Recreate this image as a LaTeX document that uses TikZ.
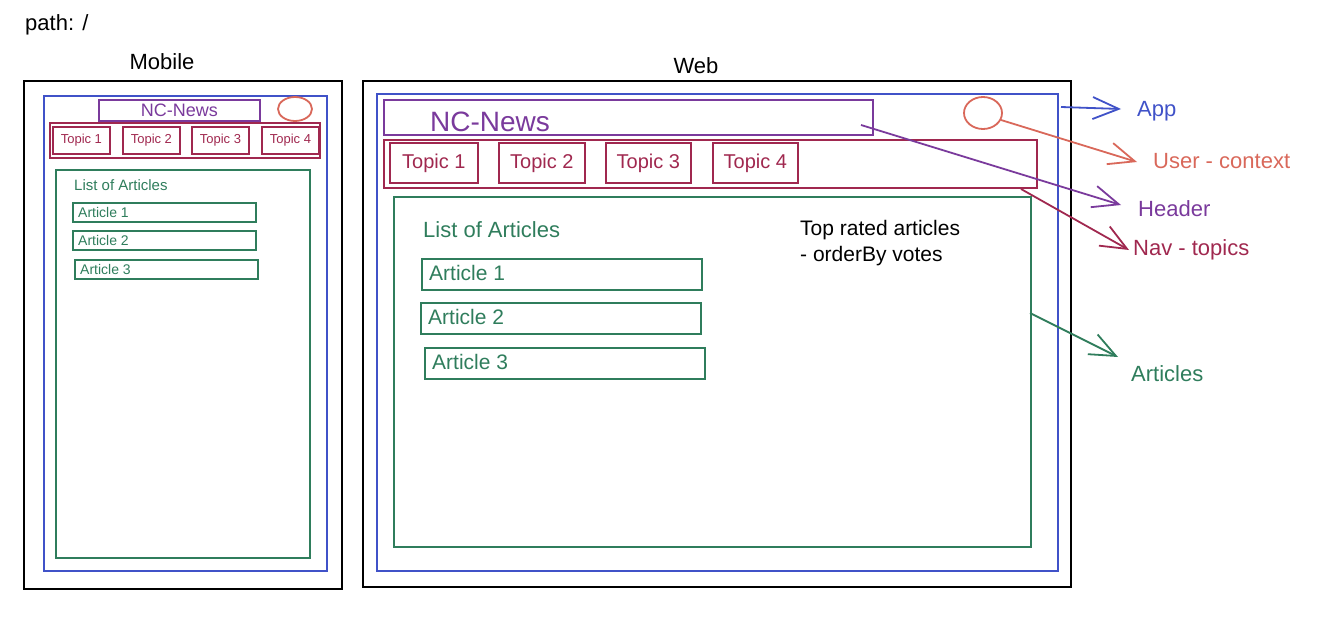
\documentclass[tikz,border=0pt]{standalone}
\usepackage{fontspec}
\setmainfont{Liberation Sans}
\usetikzlibrary{arrows.meta,calc}
\definecolor{cblue}{HTML}{4052C8}
\definecolor{cpurple}{HTML}{7A3A9C}
\definecolor{cred}{HTML}{A0284F}
\definecolor{csalmon}{HTML}{D9685A}
\definecolor{cgreen}{HTML}{2F7D5C}
\newcommand{\fs}[1]{\fontsize{#1}{#1}\selectfont}
\tikzset{
  sk/.style={draw, line width=1.8pt, rectangle, inner sep=0pt, anchor=north west},
  lab/.style={inner sep=0pt, anchor=west},
  arr/.style={line width=1.8pt, -{Straight Barb[length=26pt,width=22pt,line width=1.8pt]}},
}
\begin{document}
\begin{tikzpicture}[x=1pt,y=-1pt]
\useasboundingbox (0,0) rectangle (1344,626);

% titles
\node[lab] (path) at (25,25) {\fs{22}path: /};
\node (mobt) at (162,62) {\fs{22}Mobile};
\node (webt) at (696,66) {\fs{22}Web};

% ---------- Mobile ----------
\node[sk, black, minimum width=318pt, minimum height=508pt] (mout) at (23,80) {};
\node[sk, cblue, minimum width=283pt, minimum height=475pt] (mapp) at (43,95) {};
\node[sk, cpurple, text=cpurple, minimum width=161pt, minimum height=21pt] (mhead) at (98,99) {};
\node[cpurple] at (mhead.center) {\fs{18}NC-News};
\draw[csalmon, line width=1.8pt] (295,109) ellipse [x radius=17pt, y radius=12pt];
\coordinate (muser) at (295,109);
\node[sk, cred, minimum width=270pt, minimum height=35pt] (mnav) at (49,122) {};
\foreach \x/\i in {52/1,122/2,191/3,261/4}{
  \node[sk, cred, minimum width=57pt, minimum height=27pt] (mt\i) at (\x,126) {};
  \node[cred] at (mt\i.center) {\fs{13}Topic \i};
}
\node[sk, cgreen, minimum width=254pt, minimum height=388pt] (mart) at (55,169) {};
\node[lab, cgreen] (mlist) at (74,185) {\fs{15}List of Articles};
\foreach \x/\y/\i in {72/202/1,72/230/2,74/259/3}{
  \node[sk, cgreen, minimum width=183pt, minimum height=19pt] (ma\i) at (\x,\y) {};
  \node[lab, cgreen] at ($(ma\i.west)+(6,0)$) {\fs{14}Article \i};
}

% ---------- Web ----------
\node[sk, black, minimum width=708pt, minimum height=506pt] (wout) at (362,80) {};
\node[sk, cblue, minimum width=681pt, minimum height=477pt] (wapp) at (376,93) {};
\node[sk, cpurple, minimum width=489pt, minimum height=35pt] (whead) at (383,99) {};
\node[lab, cpurple] (wnc) at (430,122) {\fs{28}NC-News};
\draw[csalmon, line width=1.8pt] (983,113) ellipse [x radius=19pt, y radius=16pt];
\node[sk, cred, minimum width=653pt, minimum height=48pt] (wnav) at (383,139) {};
\foreach \x/\w/\i in {389/88/1,498/86/2,605/85/3,712/85/4}{
  \node[sk, cred, minimum width=\w pt, minimum height=40pt] (wt\i) at (\x,142) {};
  \node[cred] at (wt\i.center) {\fs{20}Topic \i};
}
\node[sk, cgreen, minimum width=637pt, minimum height=350pt] (wart) at (393,196) {};
\node[lab, cgreen] (wlist) at (423,230) {\fs{22}List of Articles};
\foreach \x/\y/\i in {421/258/1,420/302/2,424/347/3}{
  \node[sk, cgreen, minimum width=280pt, minimum height=31pt] (wa\i) at (\x,\y) {};
  \node[lab, cgreen] at ($(wa\i.west)+(8,-1)$) {\fs{21}Article \i};
}
\node[lab] (top1) at (800,230) {\fs{21}Top rated articles};
\node[lab] (top2) at (800,256) {\fs{21}- orderBy votes};

% ---------- labels ----------
\node[lab, cblue] (lapp) at (1137,111) {\fs{22}App};
\node[lab, csalmon] (luser) at (1153,161) {\fs{22}User - context};
\node[lab, cpurple] (lhead) at (1138,209) {\fs{22}Header};
\node[lab, cred] (lnav) at (1133,250) {\fs{22}Nav - topics};
\node[lab, cgreen] (larts) at (1131,374) {\fs{22}Articles};

% ---------- arrows ----------
\coordinate (aApp0) at (1061,107);   \coordinate (aApp1) at (1121,109);
\coordinate (aUsr0) at (1001,120);   \coordinate (aUsr1) at (1137,162);
\coordinate (aHdr0) at (861,125);    \coordinate (aHdr1) at (1121,205);
\coordinate (aNav0) at (1021,189);   \coordinate (aNav1) at (1129,250);
\coordinate (aArt0) at (1030,313);   \coordinate (aArt1) at (1118,357);
\draw[arr, cblue] (aApp0) -- (aApp1);
\draw[arr, csalmon] (aUsr0) -- (aUsr1);
\draw[arr, cpurple] (aHdr0) -- (aHdr1);
\draw[arr, cred] (aNav0) -- (aNav1);
\draw[arr, cgreen] (aArt0) -- (aArt1);
\end{tikzpicture}
\end{document}
